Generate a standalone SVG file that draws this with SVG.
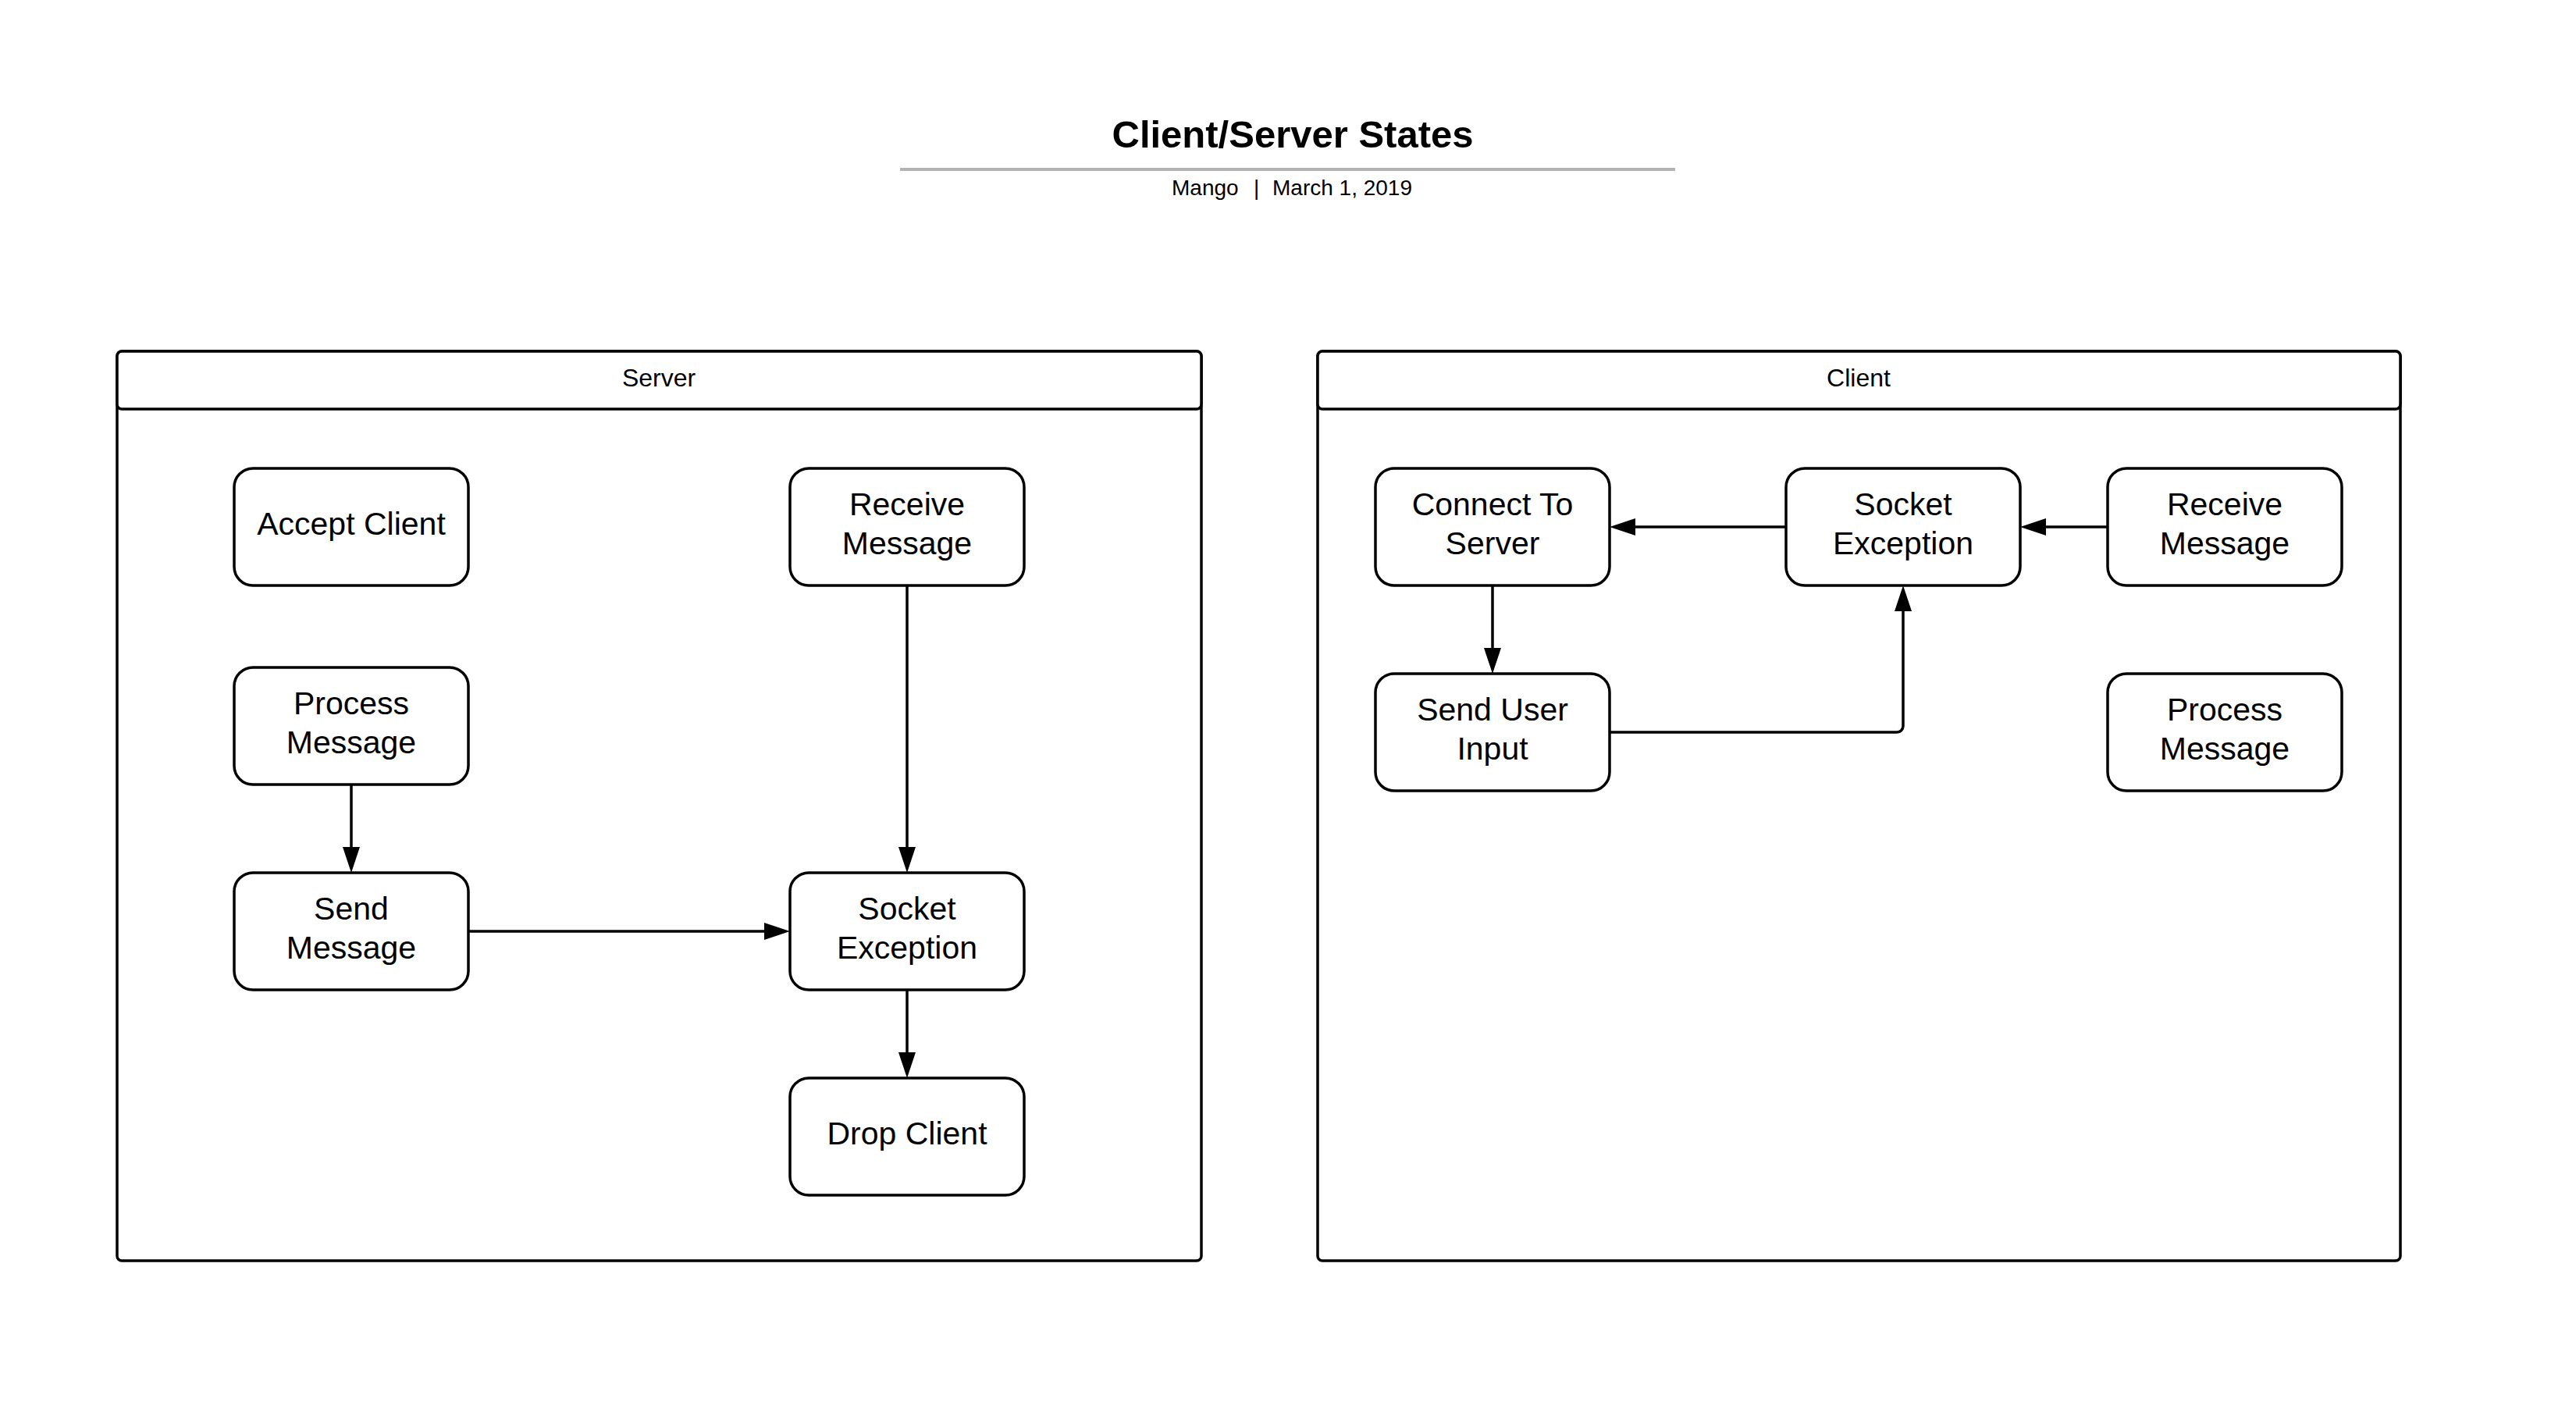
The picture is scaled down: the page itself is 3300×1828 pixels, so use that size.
<svg xmlns="http://www.w3.org/2000/svg" width="3300" height="1828" viewBox="0 0 3300 1828">
<style>
.bg{fill:#ffffff}
.box{fill:#ffffff;stroke:#000000;stroke-width:3.5}
.node{fill:#ffffff;stroke:#000000;stroke-width:3.5}
.lbl{font-family:"Liberation Sans",Arial,sans-serif;font-size:41px;fill:#000000;text-anchor:middle}
.hdr{font-family:"Liberation Sans",Arial,sans-serif;font-size:32px;fill:#000000;text-anchor:middle}
.edge{fill:none;stroke:#000000;stroke-width:3.5}
</style>
<defs>
<marker id="arrow" markerUnits="userSpaceOnUse" markerWidth="34" markerHeight="24" viewBox="0 0 34 24" refX="0" refY="12" orient="auto">
<path d="M0,1 L33,12 L0,23 Z" fill="#000000"/>
</marker>
</defs>
<rect class="bg" x="0" y="0" width="3300" height="1828"/>
<g id="title">
<text x="1656" y="189" font-family="'Liberation Sans',Arial,sans-serif" font-size="49" font-weight="bold" text-anchor="middle" fill="#000000">Client/Server States</text>
<line x1="1153" y1="217" x2="2146" y2="217" stroke="#b3b3b3" stroke-width="4"/>
<text y="250" font-family="'Liberation Sans',Arial,sans-serif" font-size="28" fill="#000000"><tspan x="1501">Mango</tspan><tspan x="1606">|</tspan><tspan x="1630">March 1, 2019</tspan></text>
</g>
<g id="server-container">
<rect class="box" x="150" y="450" width="1389" height="1165" rx="6"/>
<rect class="box" x="150" y="450" width="1389" height="74" rx="6"/>
<text class="hdr" x="844" y="495">Server</text>
</g>
<g id="client-container">
<rect class="box" x="1688" y="450" width="1387" height="1165" rx="6"/>
<rect class="box" x="1688" y="450" width="1387" height="74" rx="6"/>
<text class="hdr" x="2381" y="495">Client</text>
</g>
<g id="connectors">
<path class="edge" d="M450,1005 V1085" marker-end="url(#arrow)"/>
<path class="edge" d="M1162,750 V1085" marker-end="url(#arrow)"/>
<path class="edge" d="M600,1193 H979" marker-end="url(#arrow)"/>
<path class="edge" d="M1162,1268 V1348" marker-end="url(#arrow)"/>
<path class="edge" d="M1912,750 V830" marker-end="url(#arrow)"/>
<path class="edge" d="M2288,675 H2095" marker-end="url(#arrow)"/>
<path class="edge" d="M2700,675 H2621" marker-end="url(#arrow)"/>
<path class="edge" d="M2062,938 H2430 A8,8 0 0 0 2438,930 V783" marker-end="url(#arrow)"/>
</g>
<g id="s-accept-client">
<rect class="node" x="300" y="600" width="300" height="150" rx="24"/>
<text class="lbl" x="450" y="685">Accept Client</text>
</g>
<g id="s-receive-message">
<rect class="node" x="1012" y="600" width="300" height="150" rx="24"/>
<text class="lbl" x="1162" y="660">Receive</text>
<text class="lbl" x="1162" y="709.5">Message</text>
</g>
<g id="s-process-message">
<rect class="node" x="300" y="855" width="300" height="150" rx="24"/>
<text class="lbl" x="450" y="915">Process</text>
<text class="lbl" x="450" y="964.5">Message</text>
</g>
<g id="s-send-message">
<rect class="node" x="300" y="1118" width="300" height="150" rx="24"/>
<text class="lbl" x="450" y="1178">Send</text>
<text class="lbl" x="450" y="1227.5">Message</text>
</g>
<g id="s-socket-exception">
<rect class="node" x="1012" y="1118" width="300" height="150" rx="24"/>
<text class="lbl" x="1162" y="1178">Socket</text>
<text class="lbl" x="1162" y="1227.5">Exception</text>
</g>
<g id="s-drop-client">
<rect class="node" x="1012" y="1381" width="300" height="150" rx="24"/>
<text class="lbl" x="1162" y="1466">Drop Client</text>
</g>
<g id="c-connect-to-server">
<rect class="node" x="1762" y="600" width="300" height="150" rx="24"/>
<text class="lbl" x="1912" y="660">Connect To</text>
<text class="lbl" x="1912" y="709.5">Server</text>
</g>
<g id="c-socket-exception">
<rect class="node" x="2288" y="600" width="300" height="150" rx="24"/>
<text class="lbl" x="2438" y="660">Socket</text>
<text class="lbl" x="2438" y="709.5">Exception</text>
</g>
<g id="c-receive-message">
<rect class="node" x="2700" y="600" width="300" height="150" rx="24"/>
<text class="lbl" x="2850" y="660">Receive</text>
<text class="lbl" x="2850" y="709.5">Message</text>
</g>
<g id="c-send-user-input">
<rect class="node" x="1762" y="863" width="300" height="150" rx="24"/>
<text class="lbl" x="1912" y="923">Send User</text>
<text class="lbl" x="1912" y="972.5">Input</text>
</g>
<g id="c-process-message">
<rect class="node" x="2700" y="863" width="300" height="150" rx="24"/>
<text class="lbl" x="2850" y="923">Process</text>
<text class="lbl" x="2850" y="972.5">Message</text>
</g>
</svg>
